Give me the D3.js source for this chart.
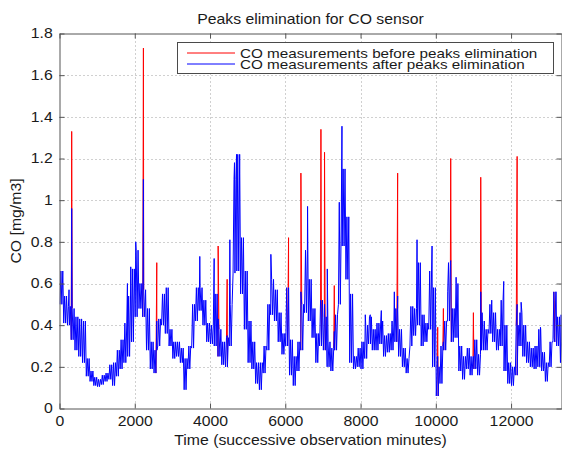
<!DOCTYPE html>
<html>
<head>
<meta charset="utf-8">
<script src="https://cdn.jsdelivr.net/npm/d3@7"></script>
<style>
body { margin: 0; background: #fff; }
text { font-family: "Liberation Sans", Arial, sans-serif; font-size: 14px; fill: #1a1a1a; }
</style>
</head>
<body>
<div id="chart"></div>
<script>
// CO readings, min / max of each 100-minute slice (after peaks elimination)
var blueLo = [0.50,0.41,0.40,0.33,0.28,0.25,0.22,0.155,0.13,0.11,
  0.105,0.115,0.13,0.14,0.11,0.155,0.19,0.22,0.25,0.32,
  0.44,0.48,0.44,0.28,0.19,0.17,0.30,0.40,0.36,0.30,
  0.24,0.25,0.22,0.09,0.19,0.29,0.42,0.47,0.40,0.32,
  0.31,0.30,0.25,0.21,0.20,0.30,0.65,0.66,0.55,0.38,
  0.22,0.19,0.12,0.09,0.17,0.28,0.45,0.42,0.32,0.26,
  0.30,0.16,0.11,0.18,0.28,0.46,0.42,0.34,0.22,0.30,
  0.28,0.20,0.18,0.28,0.50,0.78,0.62,0.22,0.19,0.20,
  0.19,0.24,0.31,0.28,0.28,0.31,0.25,0.27,0.28,0.32,
  0.25,0.20,0.17,0.30,0.35,0.40,0.30,0.32,0.38,0.20,
  0.06,0.12,0.28,0.42,0.32,0.34,0.18,0.14,0.19,0.16,
  0.19,0.16,0.28,0.28,0.36,0.32,0.28,0.30,0.18,0.12,
  0.11,0.16,0.30,0.25,0.22,0.20,0.19,0.20,0.18,0.13,
  0.20,0.32,0.30,0.22];
var blueHi = [0.66,0.54,0.49,0.48,0.44,0.43,0.42,0.24,0.18,0.15,
  0.14,0.16,0.17,0.21,0.22,0.28,0.33,0.41,0.54,0.67,
  0.76,0.60,0.57,0.48,0.32,0.28,0.43,0.55,0.58,0.38,
  0.32,0.32,0.29,0.24,0.30,0.50,0.58,0.58,0.52,0.41,
  0.40,0.55,0.38,0.32,0.34,0.50,1.10,1.22,0.82,0.66,
  0.42,0.32,0.22,0.22,0.30,0.50,0.62,0.57,0.46,0.36,
  0.58,0.33,0.25,0.32,0.50,0.76,0.62,0.48,0.36,0.52,
  0.44,0.32,0.29,0.45,0.90,1.15,0.92,0.55,0.25,0.29,
  0.32,0.40,0.44,0.38,0.41,0.42,0.35,0.36,0.42,0.48,
  0.38,0.29,0.24,0.49,0.48,0.70,0.45,0.41,0.66,0.58,
  0.20,0.30,0.42,0.70,0.48,0.60,0.30,0.25,0.29,0.25,
  0.33,0.26,0.42,0.38,0.50,0.46,0.38,0.52,0.40,0.22,
  0.20,0.40,0.46,0.40,0.32,0.29,0.30,0.38,0.27,0.22,
  0.32,0.56,0.44,0.32];

// single-sample excursions kept after elimination
var spikeTimes  = [253,1805,1893,2026,3728,4110,4527,4650,4704,5617,6592,7116,7435,7506,
  8126,8259,8552,8898,9501,9900,10316,10539,11230,11486,11805,12267,12781,13198,13331];
var spikeValues = [0.57,0.60,0.68,0.80,0.73,0.72,0.81,1.18,1.22,0.74,0.97,0.67,0.99,1.355,
  0.45,0.45,0.47,0.56,0.81,0.78,0.56,0.63,0.46,0.52,0.61,0.51,0.39,0.56,0.45];

// eliminated peaks: value before and after
var peakTimes  = [324,2230,2585,4216,4455,6087,6415,6947,7043,7302,8986,10050,10201,10396,10999,11194,12161,13145];
var peakBefore = [1.33,1.73,0.70,0.78,0.62,0.82,1.13,1.34,1.23,0.59,1.13,0.39,0.48,1.20,0.46,1.11,1.21,0.52];
var peakAfter  = [0.96,1.10,0.42,0.43,0.35,0.52,0.56,0.50,0.50,0.37,0.54,0.25,0.32,0.71,0.25,0.56,0.50,0.34];

var xTicks = [0,2000,4000,6000,8000,10000,12000];
var yTicks = [0,0.2,0.4,0.6,0.8,1,1.2,1.4,1.6,1.8];
var yTickLabels = ["0","0.2","0.4","0.6","0.8","1","1.2","1.4","1.6","1.8"];
var seriesNames = ["CO measurements before peaks elimination", "CO measurements after peaks elimination"];
var seriesColors = ["#ff0000", "#0000ff"];

var width = 562, height = 452;
var pLeft = 59.5, pRight = 561.5, pTop = 33.5, pBottom = 408.5;
var step = 100, xMax = 13340;
var stretch = "scale(1.13,1)";   // the reference text is a bit wide

var svg = d3.select("#chart").append("svg")
    .attr("width", width)
    .attr("height", height);

var x = d3.scaleLinear().domain([0, xMax]).range([pLeft, pRight]);
var y = d3.scaleLinear().domain([0, 1.8]).range([pBottom, pTop]);

svg.append("defs").append("clipPath").attr("id", "plot")
  .append("rect")
    .attr("x", pLeft).attr("y", pTop)
    .attr("width", pRight - pLeft).attr("height", pBottom - pTop);

// grid
var grid = svg.append("g").attr("class", "grid");
grid.selectAll(".vg")
    .data(xTicks.slice(1))
  .enter().append("line")
    .attr("x1", function(d){ return Math.round(x(d)) + 0.5; })
    .attr("x2", function(d){ return Math.round(x(d)) + 0.5; })
    .attr("y1", pTop).attr("y2", pBottom);
grid.selectAll(".hg")
    .data(yTicks.slice(1, -1))
  .enter().append("line")
    .attr("x1", pLeft).attr("x2", pRight)
    .attr("y1", function(d){ return Math.round(y(d)) + 0.5; })
    .attr("y2", function(d){ return Math.round(y(d)) + 0.5; });
grid.selectAll("line")
    .style("stroke", "#a0a0a0")
    .style("stroke-width", 1)
    .style("stroke-dasharray", "1,3");

// blue trace: each slice drawn as a zigzag between its min and max
var bluePts = [];
blueLo.forEach(function(lo, i){
    [12.5, 37.5, 62.5, 87.5].forEach(function(off, k){
        bluePts.push({t: i * step + off, v: k % 2 ? blueHi[i] : lo});
    });
});
spikeTimes.forEach(function(t, i){ bluePts.push({t: t, v: spikeValues[i]}); });
peakTimes.forEach(function(t, i){ bluePts.push({t: t, v: peakAfter[i], peak: i}); });
bluePts.sort(function(a, b){ return a.t - b.t; });

// red trace only differs at the peaks
var redSegs = [];
bluePts.forEach(function(p, j){
    if (p.peak !== undefined) {
        redSegs.push([bluePts[j - 1] || p, {t: p.t, v: peakBefore[p.peak]}, bluePts[j + 1] || p]);
    }
});

var line = d3.line()
    .x(function(d){ return x(d.t); })
    .y(function(d){ return y(d.v); });

var plot = svg.append("g").attr("clip-path", "url(#plot)");
plot.selectAll(".red")
    .data(redSegs)
  .enter().append("path")
    .attr("class", "red")
    .attr("d", line)
    .style("fill", "none")
    .style("stroke", seriesColors[0])
    .style("stroke-width", 1);
plot.append("path")
    .datum(bluePts)
    .attr("d", line)
    .style("fill", "none")
    .style("stroke", seriesColors[1])
    .style("stroke-width", 1);

// axes, ticks inside like matlab
var gx = svg.append("g")
    .attr("transform", "translate(0," + pBottom + ")")
    .call(d3.axisBottom(x).tickValues(xTicks).tickSizeInner(-5).tickSizeOuter(0).tickPadding(8).tickFormat(d3.format("d")));
var gxt = svg.append("g")
    .attr("transform", "translate(0," + pTop + ")")
    .call(d3.axisTop(x).tickValues(xTicks).tickSizeInner(-5).tickSizeOuter(0).tickFormat(""));
var gy = svg.append("g")
    .attr("transform", "translate(" + pLeft + ",0)")
    .call(d3.axisLeft(y).tickValues(yTicks).tickSizeInner(-5).tickSizeOuter(0).tickPadding(6)
        .tickFormat(function(d, i){ return yTickLabels[i]; }));
var gyr = svg.append("g")
    .attr("transform", "translate(" + pRight + ",0)")
    .call(d3.axisRight(y).tickValues(yTicks).tickSizeInner(-5).tickSizeOuter(0).tickFormat(""));

[gx, gxt, gy, gyr].forEach(function(g){
    g.select(".domain").style("stroke", "#555");
    g.selectAll(".tick line").style("stroke", "#555");
    g.selectAll("text")
        .attr("transform", stretch)
        .style("font-family", "'Liberation Sans', Arial, sans-serif")
        .style("font-size", "14px")
        .style("fill", "#1a1a1a");
});

// titles
svg.append("text")
    .attr("transform", "translate(" + ((pLeft + pRight) / 2) + ",24)" + stretch)
    .attr("text-anchor", "middle")
    .text("Peaks elimination for CO sensor");

svg.append("text")
    .attr("transform", "translate(" + ((pLeft + pRight) / 2) + ",445)" + stretch)
    .attr("text-anchor", "middle")
    .text("Time (successive observation minutes)");

svg.append("text")
    .attr("transform", "translate(21,221)rotate(-90)" + stretch)
    .attr("text-anchor", "middle")
    .text("CO [mg/m3]");

// legend
var legend = svg.append("g").attr("transform", "translate(177,42)");
legend.append("rect")
    .attr("x", 0.5).attr("y", 0.5)
    .attr("width", 376).attr("height", 31)
    .style("fill", "#fff")
    .style("stroke", "#4a4a4a");

var items = legend.selectAll(".item")
    .data(seriesNames)
  .enter().append("g")
    .attr("transform", function(d, i){ return "translate(0," + (11 + i * 11) + ")"; });
items.append("line")
    .attr("x1", 10).attr("x2", 58)
    .attr("y1", 0).attr("y2", 0)
    .style("stroke", function(d, i){ return seriesColors[i]; })
    .style("stroke-width", 1);
items.append("text")
    .attr("transform", "translate(63,5)" + stretch)
    .style("font-size", "13.5px")
    .text(function(d){ return d; });
</script>
</body>
</html>
